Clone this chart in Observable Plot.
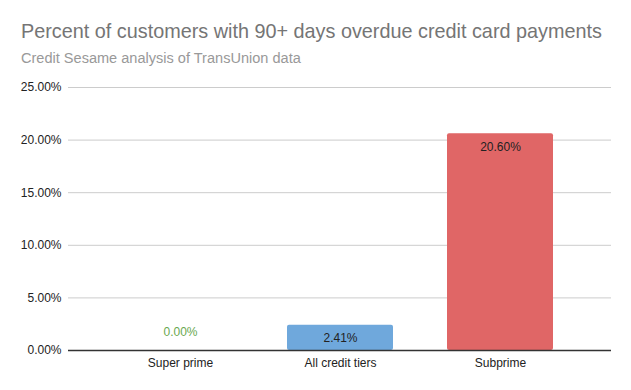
<!DOCTYPE html>
<html>
<head>
<meta charset="utf-8">
<script src="https://cdn.jsdelivr.net/npm/d3@7"></script>
<script src="https://cdn.jsdelivr.net/npm/@observablehq/plot@0.6"></script>
<style>
  html, body { margin: 0; padding: 0; background: #fff; }
  #wrap { position: relative; width: 631px; height: 390px; font-family: "Liberation Sans", Arial, sans-serif; }
  #head { position: relative; height: 70px; }
  #title { position: absolute; left: 21px; font-size: 20px; color: #757575; white-space: nowrap; line-height: 1; }
  #subtitle { position: absolute; left: 21px; font-size: 14px; color: #999999; white-space: nowrap; line-height: 1; }
  svg { display: block; }
</style>
</head>
<body>
<div id="wrap">
  <div id="head">
    <div id="title">Percent of customers with 90+ days overdue credit card payments</div>
    <div id="subtitle">Credit Sesame analysis of TransUnion data</div>
  </div>
  <div id="chart"></div>
</div>
<script>
const categories = ["Super prime", "All credit tiers", "Subprime"];
const values = [0.0, 2.41, 20.60];
const barColors = ["#6fa8dc", "#6fa8dc", "#e06666"];
const yTicks = [0, 5, 10, 15, 20, 25];

// fit header text widths to the reference (title ~581px, subtitle ~280px), baselines at 39 and 63
function fit(el, targetWidth, baseline) {
  const ctx = document.createElement("canvas").getContext("2d");
  ctx.font = `100px "Liberation Sans", Arial, sans-serif`;
  const w = ctx.measureText(el.textContent).width;
  const size = 100 * targetWidth / w;
  el.style.fontSize = size.toFixed(2) + "px";
  el.style.lineHeight = size.toFixed(2) + "px";
  // Liberation Sans ascent 0.905, descent 0.212
  const half = (size - size * 1.117) / 2;
  el.style.top = (baseline - half - 0.905 * size).toFixed(2) + "px";
}
fit(document.getElementById("title"), 581, 39);
fit(document.getElementById("subtitle"), 280, 63);

const data = categories.map((c, i) => ({category: c, value: values[i], color: barColors[i]}));
const fmt = v => v.toFixed(2) + "%";

const chart = Plot.plot({
  width: 631,
  height: 320,
  marginTop: 17,
  marginBottom: 40,
  marginLeft: 68,
  marginRight: 20,
  style: {fontFamily: "'Liberation Sans', Arial, sans-serif", fontSize: "12px", color: "#222"},
  x: {domain: categories, paddingInner: 0.34, paddingOuter: 0.357, label: null},
  y: {domain: [0, 25], label: null},
  marks: [
    Plot.gridY(yTicks, {stroke: "#cccccc", strokeOpacity: 1}),
    Plot.axisY({ticks: yTicks, tickSize: 0, tickPadding: 7, tickFormat: fmt, fontSize: 12, fill: "#222"}),
    Plot.axisX({tickSize: 0, tickPadding: 8, fontSize: 12, fill: "#222"}),
    Plot.barY(data.filter(d => d.value > 0), {x: "category", y: "value", fill: "color", rx: 2}),
    Plot.ruleY([0], {stroke: "#333333", strokeWidth: 1.3}),
    Plot.text(data.filter(d => d.value > 0), {x: "category", y: "value", text: d => fmt(d.value), dy: 13, fill: "#222", fontSize: 12}),
    Plot.text(data.filter(d => d.value === 0), {x: "category", y: "value", text: d => fmt(d.value), dy: -18, fill: "#6aa84f", fontSize: 12})
  ]
});
document.getElementById("chart").appendChild(chart);
</script>
</body>
</html>
